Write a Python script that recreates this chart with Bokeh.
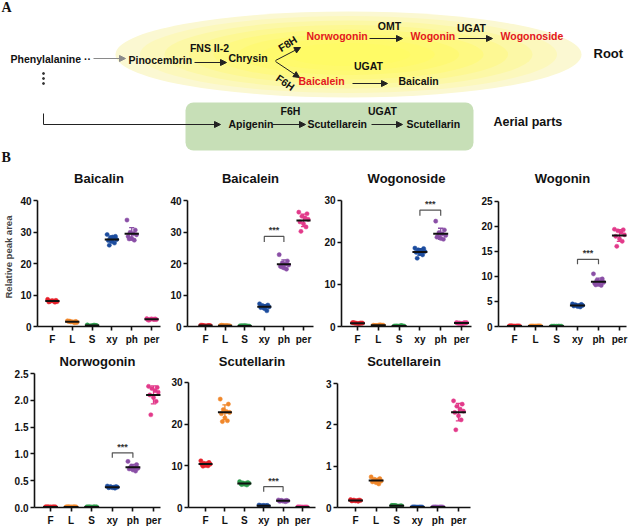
import numpy as np
from bokeh.plotting import figure
from bokeh.layouts import column, row
from bokeh.models import Range1d, FixedTicker, Arrow, NormalHead, BoxAnnotation, Label
from bokeh.core.properties import value
from bokeh.embed import file_html
from bokeh.resources import INLINE

FONT = "Liberation Sans"
GROUPS = ["F", "L", "S", "xy", "ph", "per"]
COLORS = ["#E5202A", "#F0872A", "#2C9A4B", "#1C4C9E", "#8A4FA6", "#E23A8A"]

# ---------------- data (relative peak area, one list per tissue) ----------------
baicalin = {
    "F": [8.6, 8.3, 8.1, 8.0, 7.9, 7.8, 8.2, 7.7, 8.0],
    "L": [1.8, 1.6, 1.5, 1.4, 1.3, 1.6, 1.5, 1.2, 1.7],
    "S": [0.5, 0.3, 0.2, 0.4, 0.3, 0.2, 0.3, 0.4, 0.1],
    "xy": [29.2, 28.6, 28.2, 27.9, 27.6, 27.3, 27.0, 26.5, 25.8, 28.4],
    "ph": [33.8, 30.6, 29.9, 29.5, 29.1, 28.6, 28.0, 27.4, 27.8],
    "per": [2.5, 2.4, 2.3, 2.3, 2.2, 2.1, 2.4, 2.2, 2.0],
}
baicalein = {
    "F": [0.4, 0.3, 0.3, 0.2, 0.3, 0.4, 0.2, 0.3, 0.3],
    "L": [0.3, 0.2, 0.3, 0.3, 0.2, 0.4, 0.3, 0.2, 0.3],
    "S": [0.2, 0.1, 0.2, 0.2, 0.1, 0.2, 0.3, 0.1, 0.2],
    "xy": [7.2, 6.8, 6.6, 6.4, 6.2, 6.0, 5.7, 5.0, 6.5],
    "ph": [22.8, 20.8, 20.2, 19.8, 19.5, 19.1, 18.6, 18.2, 19.0],
    "per": [36.3, 35.8, 35.0, 34.5, 34.0, 33.2, 32.6, 31.6, 30.2],
}
wogonoside = {
    "F": [0.9, 0.8, 0.8, 0.7, 0.8, 0.9, 0.7, 0.8, 0.8],
    "L": [0.3, 0.3, 0.2, 0.4, 0.3, 0.2, 0.3, 0.3, 0.2],
    "S": [0.1, 0.1, 0.1, 0.2, 0.1, 0.1, 0.1, 0.2, 0.1],
    "xy": [18.6, 18.5, 18.2, 18.0, 17.8, 17.6, 17.3, 17.0, 16.2],
    "ph": [25.0, 22.9, 22.3, 22.0, 21.6, 21.2, 20.9, 20.7, 21.4],
    "per": [0.9, 0.8, 0.8, 0.7, 0.9, 0.8, 0.7, 0.9, 0.8],
}
wogonin = {
    "F": [0.12, 0.10, 0.10, 0.08, 0.10, 0.12, 0.09, 0.10, 0.11],
    "L": [0.08, 0.10, 0.07, 0.09, 0.10, 0.08, 0.09, 0.10, 0.08],
    "S": [0.05, 0.04, 0.05, 0.06, 0.05, 0.04, 0.05, 0.06, 0.05],
    "xy": [4.5, 4.4, 4.3, 4.2, 4.2, 4.1, 4.0, 3.9, 4.3],
    "ph": [10.5, 9.5, 9.2, 9.0, 8.8, 8.6, 8.4, 8.2, 8.3],
    "per": [19.4, 19.3, 19.1, 18.8, 18.3, 18.0, 17.5, 17.0, 16.0],
}
norwogonin = {
    "F": [0.012, 0.010, 0.011, 0.009, 0.010, 0.012, 0.010, 0.011, 0.010],
    "L": [0.011, 0.010, 0.012, 0.009, 0.010, 0.011, 0.010, 0.012, 0.010],
    "S": [0.010, 0.009, 0.011, 0.010, 0.012, 0.010, 0.009, 0.011, 0.010],
    "xy": [0.40, 0.39, 0.39, 0.38, 0.38, 0.37, 0.37, 0.36, 0.38],
    "ph": [0.86, 0.80, 0.77, 0.75, 0.73, 0.72, 0.70, 0.68, 0.74],
    "per": [2.26, 2.24, 2.22, 2.18, 2.15, 2.10, 2.05, 1.98, 1.73],
}
scutellarin = {
    "F": [11.2, 10.8, 10.6, 10.5, 10.4, 10.3, 10.1, 10.0, 9.9],
    "L": [26.0, 24.8, 23.5, 23.0, 22.8, 22.5, 21.5, 20.8, 20.6],
    "S": [6.2, 6.0, 5.9, 5.8, 5.8, 5.7, 5.6, 5.4, 5.5],
    "xy": [0.6, 0.5, 0.4, 0.4, 0.3, 0.4, 0.5, 0.3, 0.4],
    "ph": [1.8, 1.7, 1.7, 1.6, 1.6, 1.5, 1.5, 1.4, 1.6],
    "per": [0.15, 0.10, 0.12, 0.08, 0.10, 0.12, 0.10, 0.09, 0.11],
}
scutellarein = {
    "F": [0.19, 0.18, 0.18, 0.17, 0.17, 0.16, 0.16, 0.15, 0.17],
    "L": [0.74, 0.70, 0.68, 0.66, 0.64, 0.62, 0.60, 0.57, 0.65],
    "S": [0.05, 0.04, 0.05, 0.03, 0.04, 0.05, 0.04, 0.03, 0.04],
    "xy": [0.012, 0.010, 0.011, 0.009, 0.010, 0.012, 0.010, 0.011, 0.010],
    "ph": [0.011, 0.010, 0.012, 0.009, 0.010, 0.011, 0.010, 0.012, 0.010],
    "per": [2.58, 2.50, 2.45, 2.38, 2.33, 2.30, 2.22, 2.12, 1.88],
}

# significance brackets between xy and ph (low end, top)
bracket_baicalein = (26.8, 28.6)
bracket_wogonoside = (26.3, 27.6)
bracket_wogonin = (12.4, 13.4)
bracket_norwogonin = (0.93, 1.02)
bracket_scutellarin = (3.8, 5.0)

# horizontal scatter pattern of the dots inside a group (style only)
OFFS = [-0.24, 0.18, -0.08, 0.08, 0.24, -0.18, 0.0, 0.13, -0.13, 0.04]


def title_text(p, x, y, s):
    p.text(x=[x], y=[y], text=[s], text_font=value(FONT), text_font_size="13px", text_font_style="bold",
           text_color="#111111", text_align="center", text_baseline="middle")


def panel(title, data, ymax, ystep, geom, box, title_px=None, fmt=None, ylabel=None, bracket=None):
    # geom: frame in page pixels (left, right, x of first group, x of last group, top of axis, zero)
    L, R, F, P, T, Z = geom
    fx, fw, fy, fh = box  # figure box in page pixels
    s = (P - F) / 5.0
    x0 = -(F - L) / s
    xr = Range1d(x0, 5 + (R - P) / s)
    ypx = ymax / (Z - T)  # data units per pixel
    yr = Range1d(0, (Z - fy) * ypx)  # frame reaches the top of the figure
    p = figure(width=fw, height=fh, x_range=xr, y_range=yr,
               output_backend="svg", toolbar_location=None,
               min_border_left=L - fx, min_border_right=fx + fw - R,
               min_border_top=0, min_border_bottom=fy + fh - Z)
    p.outline_line_color = None
    p.xgrid.visible = False
    p.ygrid.visible = False
    p.background_fill_color = None
    p.border_fill_color = None
    if title_px is not None:
        title_text(p, x0 + ((L + R) / 2 - L) / s, (Z - title_px) * ypx, title)
    for ax in (p.xaxis, p.yaxis):
        ax.axis_line_width = 1.6
        ax.axis_line_color = "#111111"
        ax.major_tick_line_width = 1.6
        ax.major_tick_line_color = "#111111"
        ax.major_tick_out = 4
        ax.major_tick_in = 0
        ax.minor_tick_out = 0
        ax.minor_tick_in = 0
        ax.major_label_text_font = FONT
        ax.major_label_text_font_size = "10px"
        ax.major_label_text_font_style = "bold"
        ax.major_label_text_color = "#111111"
        ax.major_label_standoff = 2
    p.xaxis.ticker = FixedTicker(ticks=list(range(6)))
    p.xaxis.major_label_overrides = {i: g for i, g in enumerate(GROUPS)}
    p.xaxis.major_label_standoff = 3
    ticks = list(np.round(np.arange(0, ymax + 1e-9, ystep), 3))
    p.yaxis.ticker = FixedTicker(ticks=ticks)
    p.yaxis.bounds = (0, ymax)
    if fmt:
        p.yaxis.major_label_overrides = {t: fmt.format(t) for t in ticks}
    if ylabel:
        # trailing no-break spaces move the centred label down beside the axis
        p.yaxis.axis_label = ylabel + "\u00a0" * 8
        p.yaxis.axis_label_text_font = FONT
        p.yaxis.axis_label_text_font_size = "9.5px"
        p.yaxis.axis_label_text_font_style = "bold"
        p.yaxis.axis_label_standoff = 3
    for i, g in enumerate(GROUPS):
        vals = np.array(data[g], dtype=float)
        n = len(vals)
        xs = i + np.array(OFFS[:n])
        p.scatter(xs, vals, size=4.2, marker="circle", fill_color=COLORS[i], line_color=COLORS[i], line_width=0.5)
        m = vals.mean()
        sd = vals.std(ddof=1)
        p.segment(x0=[i], y0=[m - sd], x1=[i], y1=[m + sd], line_color=COLORS[i], line_width=1.3)
        p.segment(x0=[i - 0.13, i - 0.13], y0=[m - sd, m + sd], x1=[i + 0.13, i + 0.13], y1=[m - sd, m + sd],
                  line_color=COLORS[i], line_width=1.3)
        p.segment(x0=[i - 0.36], y0=[m], x1=[i + 0.36], y1=[m], line_color="#111111", line_width=2)
    if bracket:
        lo, hi = bracket
        p.line([3, 3, 4, 4], [lo, hi, hi, lo], line_color="#555555", line_width=1.2)
        p.text(x=[3.5], y=[hi], text=["***"], text_align="center", text_baseline="bottom",
               text_font=value(FONT), text_font_size="9px", text_font_style="bold", text_color="#333333",
               y_offset=-1)
    return p


# ---------------- panel A: pathway diagram (page-pixel coordinates) ----------------
HA = 166
pa = figure(width=634, height=HA, x_range=Range1d(0, 634), y_range=Range1d(HA, 0),
            x_axis_type=None, y_axis_type=None, output_backend="svg", toolbar_location=None, min_border=0)
pa.outline_line_color = None
pa.background_fill_color = None
pa.border_fill_color = None

ell_cols = ["#FBF8D2", "#FCF8BC", "#FCF8A6", "#FDF893", "#FEF982", "#FEF975", "#FFFA6C", "#FFFB66"]
for k, c in enumerate(ell_cols):
    sc = 1.0 - k * 0.105
    pa.ellipse(x=[348], y=[54], width=[466 * sc], height=[86 * sc], fill_color=c, line_color=None)

pa.add_layout(BoxAnnotation(left=185, right=473, top=102, bottom=150, fill_color="#C7DFB7", fill_alpha=1,
                            line_color=None, border_radius=8, level="underlay"))

RED = "#E3161E"
INK = "#111111"


def lab(x, y, s, size=10.5, color=INK, align="left", angle=0, font=FONT, baseline="middle"):
    pa.add_layout(Label(x=x, y=y, text=s, text_font=font, text_font_size=f"{size}px", text_font_style="bold",
                        text_color=color, text_align=align, text_baseline=baseline, angle=angle, angle_units="deg"))


def arr(x0, y0, x1, y1, color="#222222"):
    pa.add_layout(Arrow(x_start=x0, y_start=y0, x_end=x1, y_end=y1, line_color=color, line_width=1,
                        end=NormalHead(size=6, fill_color=color, line_color=color)))


lab(1, 7, "A", size=14, font="Liberation Serif")
lab(1, 157, "B", size=14, font="Liberation Serif")
lab(10, 58, "Phenylalanine \u00b7\u00b7")
arr(93, 58, 125, 58, color="#8a8a8a")
lab(128, 59, "Pinocembrin")
arr(194, 62, 226, 62)
lab(209, 47, "FNS II-2", align="center")
lab(228, 57, "Chrysin")
arr(275, 60, 300, 47)
arr(275, 61, 299, 77)
lab(287, 43, "F8H", align="center", angle=32)
lab(285, 82, "F6H", align="center", angle=-35)
lab(306, 35, "Norwogonin", color=RED)
lab(389, 25, "OMT", align="center")
arr(369, 38, 402, 38)
lab(410, 35, "Wogonin", color=RED)
lab(471, 27, "UGAT", align="center")
arr(458, 38, 492, 38)
lab(500, 35, "Wogonoside", color=RED)
lab(593, 53, "Root", size=13)
lab(298, 80, "Baicalein", color=RED)
lab(368, 65, "UGAT", align="center")
arr(352, 83, 387, 83)
lab(398, 80, "Baicalin")
pa.scatter(x=[43, 43, 43], y=[73, 78, 83], size=2, color="#333333")
pa.line(x=[43, 43], y=[113, 124], line_color="#222222", line_width=1)
arr(43, 124, 220, 124)
lab(228, 123, "Apigenin")
lab(290, 110, "F6H", align="center")
arr(272, 124, 305, 124)
lab(307, 123, "Scutellarein")
lab(382, 110, "UGAT", align="center")
arr(371, 124, 402, 124)
lab(406, 123, "Scutellarin")
lab(493, 121, "Aerial parts", size=12.5)

# ---------------- panel B ----------------
R1 = HA          # page y of first row
H1 = 186
RT = R1 + H1     # strip that carries the titles of the second row
HT = 17
R2 = RT + HT
H2 = 528 - R2

p1 = panel("Baicalin", baicalin, 40, 10, (36, 160, 51, 151, 200, 326), (0, 165, R1, H1), 178,
           ylabel="Relative peak area")
p2 = panel("Baicalein", baicalein, 40, 10, (187, 313, 205, 303, 200, 326), (165, 153, R1, H1), 178,
           bracket=bracket_baicalein)
p3 = panel("Wogonoside", wogonoside, 30, 10, (341, 471, 357, 461, 200, 328), (318, 158, R1, H1), 178,
           bracket=bracket_wogonoside)
p4 = panel("Wogonin", wogonin, 25, 5, (498, 626, 514, 619, 202, 332), (476, 158, R1, H1), 178,
           bracket=bracket_wogonin)

g5 = (34, 160, 50, 153, 373, 507)
g6 = (188, 315, 205, 302, 382, 508)
g7 = (337, 470, 355, 458, 383, 507)
p5 = panel("Norwogonin", norwogonin, 2.5, 0.5, g5, (0, 165, R2, H2), fmt="{:.1f}", bracket=bracket_norwogonin)
p6 = panel("Scutellarin", scutellarin, 30, 10, g6, (165, 155, R2, H2), bracket=bracket_scutellarin)
p7 = panel("Scutellarein", scutellarein, 3, 1, g7, (320, 160, R2, H2))

pt = figure(width=634, height=HT, x_range=Range1d(0, 634), y_range=Range1d(RT + HT, RT),
            x_axis_type=None, y_axis_type=None, output_backend="svg", toolbar_location=None, min_border=0)
pt.outline_line_color = None
pt.background_fill_color = None
pt.border_fill_color = None
for name, g in (("Norwogonin", g5), ("Scutellarin", g6), ("Scutellarein", g7)):
    title_text(pt, (g[0] + g[1]) / 2, 361, name)

layout = column(pa, row(p1, p2, p3, p4), pt, row(p5, p6, p7))
open("out.html", "w").write(file_html(layout, INLINE))
